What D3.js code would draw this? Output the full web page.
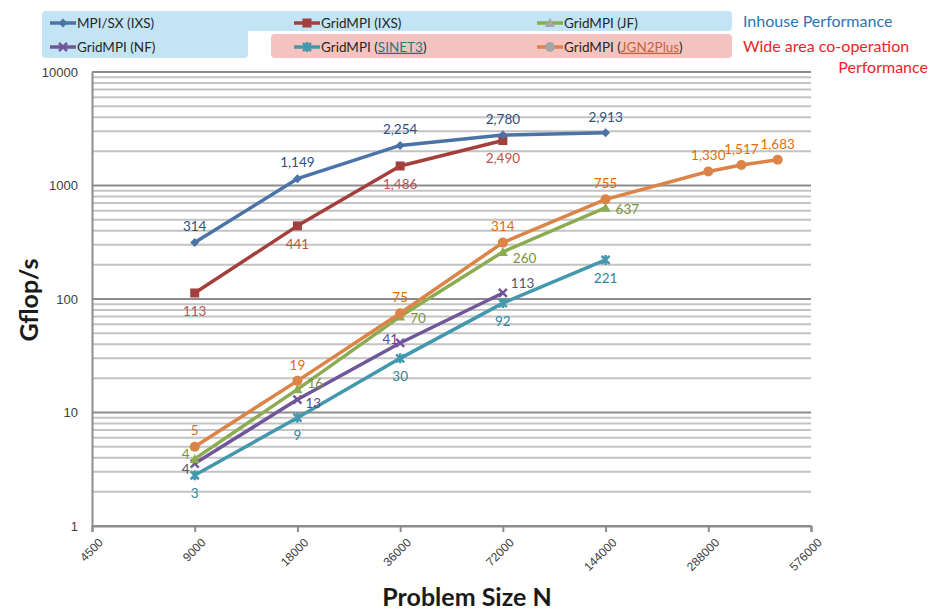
<!DOCTYPE html>
<html>
<head>
<meta charset="utf-8">
<script src="https://cdn.jsdelivr.net/npm/d3@7"></script>
<style>
  body { margin: 0; background: #fff; }
  svg { font-family: Lato, "Open Sans", sans-serif; }
</style>
</head>
<body>
<div id="chart"></div>
<script>
// problem sizes (x) and Gflop/s values per series
var sizes = [9000, 18000, 36000, 72000, 144000];
var jgnSizes = [9000, 18000, 36000, 72000, 144000, 288000, 360000, 460000];
var mpiSxIxs = [314, 1149, 2254, 2780, 2913];
var gridIxs = [113, 441, 1486, 2490];
var gridJf = [3.9, 16, 70, 260, 637];
var gridNf = [3.55, 13, 41, 113];
var gridSinet = [2.8, 9, 30, 92, 221];
var gridJgn = [5, 19, 75, 314, 755, 1330, 1517, 1683];
var xTicks = [4500, 9000, 18000, 36000, 72000, 144000, 288000, 576000];
var yTicks = [1, 10, 100, 1000, 10000];

var width = 930, height = 613;
var svg = d3.select("#chart").append("svg")
  .attr("width", width)
  .attr("height", height);

var x = d3.scaleLog().base(2).domain([4500, 576000]).range([92, 811]);
var y = d3.scaleLog().domain([1, 10000]).range([526, 72]);
var fmt = d3.format(",.0f");

// legend boxes
svg.append("path")
  .attr("d", "M46,11 H728 a4,4 0 0 1 4,4 V27 a4,4 0 0 1 -4,4 H248 V54 a4,4 0 0 1 -4,4 H46 a4,4 0 0 1 -4,-4 V15 a4,4 0 0 1 4,-4 Z")
  .attr("fill", "#c3e4f4");
svg.append("rect")
  .attr("x", 271).attr("y", 34).attr("width", 461).attr("height", 24)
  .attr("rx", 4)
  .attr("fill", "#f6c4c0");

svg.append("text").attr("x", 743).attr("y", 27)
  .attr("font-size", 16).attr("fill", "#2e74b5").text("Inhouse Performance");
svg.append("text").attr("x", 743).attr("y", 52)
  .attr("font-size", 16).attr("fill", "#e8262a").text("Wide area co-operation");
svg.append("text").attr("x", 928).attr("y", 73).attr("text-anchor", "end")
  .attr("font-size", 16).attr("fill", "#e8262a").text("Performance");

// grid lines
var grid = svg.append("g");
yTicks.forEach(function (d, i) {
  if (i < yTicks.length - 1) {
    for (var k = 2; k < 10; k++) {
      grid.append("line")
        .attr("x1", 92).attr("x2", 811)
        .attr("y1", y(d * k)).attr("y2", y(d * k))
        .attr("stroke", "#c3c3c3").attr("stroke-width", 2);
    }
  }
  grid.append("line")
    .attr("x1", 92).attr("x2", 811)
    .attr("y1", y(d)).attr("y2", y(d))
    .attr("stroke", "#8c8c8c").attr("stroke-width", 2);
});

// axes
var xAxis = svg.append("g")
  .attr("transform", "translate(0,526)")
  .call(d3.axisBottom(x).tickValues(xTicks).tickSize(6).tickFormat(d3.format("d")));
xAxis.select(".domain").attr("stroke", "#8c8c8c").attr("stroke-width", 2);
xAxis.selectAll(".tick line").attr("stroke", "#8c8c8c").attr("stroke-width", 2);
xAxis.selectAll(".tick text")
  .attr("font-size", 12).attr("fill", "#404040")
  .attr("text-anchor", "end")
  .attr("dy", "0.35em")
  .attr("transform", "translate(2,8) rotate(-45)");

var yAxis = svg.append("g")
  .attr("transform", "translate(92,0)")
  .call(d3.axisLeft(y).tickValues(yTicks).tickSize(0).tickPadding(14).tickFormat(d3.format("d")));
yAxis.select(".domain").attr("stroke", "#8c8c8c").attr("stroke-width", 2);
yAxis.selectAll(".tick text").attr("font-size", 13).attr("fill", "#404040");

svg.append("text")
  .attr("transform", "translate(38,300) rotate(-90)")
  .attr("text-anchor", "middle")
  .attr("font-size", 25).attr("font-weight", "bold").attr("fill", "#1a1a1a")
  .text("Gflop/s");
svg.append("text")
  .attr("x", 467).attr("y", 606)
  .attr("text-anchor", "middle")
  .attr("font-size", 25).attr("font-weight", "bold").attr("fill", "#1a1a1a")
  .text("Problem Size N");

// marker shapes
function marker(g, type, color) {
  if (type === "diamond") {
    g.append("path").attr("d", "M0,-4.5 L4.5,0 L0,4.5 L-4.5,0 Z").attr("fill", color);
  } else if (type === "square") {
    g.append("rect").attr("x", -4.5).attr("y", -4.5).attr("width", 9).attr("height", 9).attr("fill", color);
  } else if (type === "triangle") {
    g.append("path").attr("d", "M0,-5 L5,4 L-5,4 Z").attr("fill", color);
  } else if (type === "x") {
    g.append("path").attr("d", "M-4,-4 L4,4 M4,-4 L-4,4").attr("stroke", color).attr("stroke-width", 2.5);
  } else if (type === "star") {
    g.append("path").attr("d", "M-4,-4 L4,4 M4,-4 L-4,4 M0,-5 L0,5").attr("stroke", color).attr("stroke-width", 2.5);
  } else {
    g.append("circle").attr("r", 5).attr("fill", color);
  }
}

var series = [
  { name: "MPI/SX (IXS)", xs: sizes, ys: mpiSxIxs, line: "#4a74a8", label: "#2f4f7e", mark: "diamond",
    pos: ["a", "a", "a", "a", "a"] },
  { name: "GridMPI (IXS)", xs: sizes, ys: gridIxs, line: "#a3403e", label: "#c0504d", mark: "square",
    pos: ["b", "b", "b", "b"] },
  { name: "GridMPI (JF)", xs: sizes, ys: gridJf, line: "#8cac52", label: "#77933c", mark: "triangle",
    pos: ["lu", "ru", "r", "rb", "r"] },
  { name: "GridMPI (NF)", xs: sizes, ys: gridNf, line: "#70579a", label: "#604a7b", mark: "x",
    pos: ["ld", "rd", "la", "ra"] },
  { name: "GridMPI (SINET3)", xs: sizes, ys: gridSinet, line: "#4498ad", label: "#31859c", mark: "star",
    pos: ["b", "b", "b", "b", "b"] },
  { name: "GridMPI (JGN2Plus)", xs: jgnSizes, ys: gridJgn, line: "#dc8347", label: "#e36c0a", mark: "circle",
    pos: ["a", "a", "a", "a", "a", "a", "a", "a"] }
];

var offsets = {
  a: [0, -16, "middle"], b: [0, 18, "middle"], r: [10, 2, "start"],
  lu: [-5, -5, "end"], ld: [-5, 6, "end"], ru: [10, -6, "start"], rd: [8, 4, "start"],
  rb: [10, 6, "start"], la: [-2, -4, "end"], ra: [8, -10, "start"]
};

var line = d3.line()
  .x(function (d) { return x(d[0]); })
  .y(function (d) { return y(d[1]); });

// draw order: bottom series first
[4, 3, 2, 5, 1, 0].forEach(function (i) {
  var s = series[i];
  var pts = s.ys.map(function (v, j) { return [s.xs[j], v]; });
  svg.append("path")
    .datum(pts)
    .attr("d", line)
    .attr("fill", "none")
    .attr("stroke", s.line)
    .attr("stroke-width", 3.5)
    .attr("stroke-linejoin", "round");
  pts.forEach(function (p) {
    var g = svg.append("g").attr("transform", "translate(" + x(p[0]) + "," + y(p[1]) + ")");
    marker(g, s.mark, s.line);
  });
});

series.forEach(function (s) {
  s.ys.forEach(function (v, j) {
    var o = offsets[s.pos[j]];
    svg.append("text")
      .attr("x", x(s.xs[j]) + o[0])
      .attr("y", y(v) + o[1])
      .attr("dy", "0.35em")
      .attr("text-anchor", o[2])
      .attr("font-size", 13.5)
      .attr("fill", s.label)
      .text(fmt(v));
  });
});

// legend entries
var legendPos = [[50, 23], [294, 23], [537, 23], [50, 47], [294, 47], [537, 47]];
var legendMarks = ["#4a74a8", "#a3403e", "#a6a6a6", "#70579a", "#4498ad", "#a6a6a6"];
series.forEach(function (s, i) {
  var lx = legendPos[i][0], ly = legendPos[i][1];
  svg.append("line")
    .attr("x1", lx).attr("x2", lx + 26).attr("y1", ly).attr("y2", ly)
    .attr("stroke", s.line).attr("stroke-width", 3.5);
  var g = svg.append("g").attr("transform", "translate(" + (lx + 13) + "," + ly + ")");
  marker(g, s.mark, legendMarks[i]);
  var t = svg.append("text")
    .attr("x", lx + 27).attr("y", ly).attr("dy", "0.35em")
    .attr("font-size", 13.5).attr("fill", "#262626");
  var m = s.name.match(/^(.*\()(.*)(\))$/);
  if (i >= 4) {
    t.append("tspan").text(m[1]);
    t.append("tspan").text(m[2])
      .attr("fill", i === 4 ? "#1c7a7a" : "#c5643a")
      .attr("text-decoration", "underline");
    t.append("tspan").text(m[3]);
  } else {
    t.text(s.name);
  }
});
</script>
</body>
</html>
